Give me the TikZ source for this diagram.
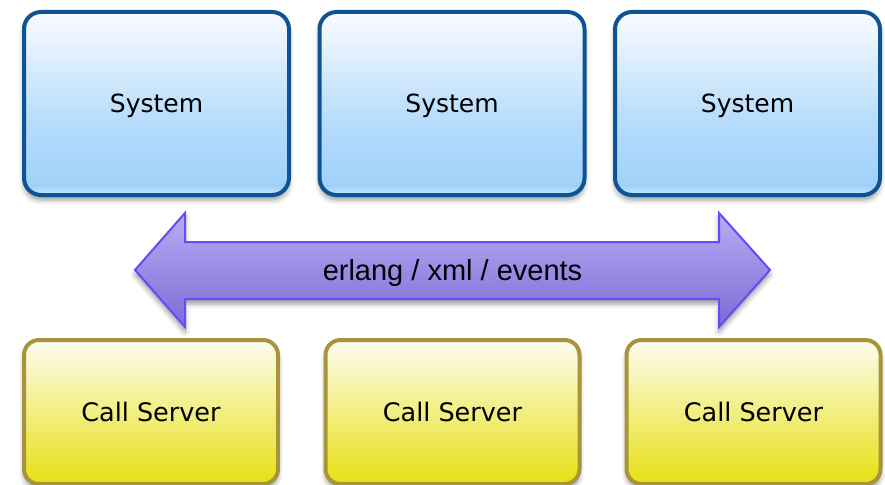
\documentclass[tikz,border=0pt]{standalone}
\usepackage{fontspec}
\usetikzlibrary{shadows.blur}

\newfontfamily\boxfont{DejaVu Sans}
\newfontfamily\busfont{Liberation Sans}

\definecolor{sysedge}{RGB}{14,84,148}
\definecolor{sysblue}{RGB}{160,209,250}
\definecolor{sysband}{RGB}{205,232,252}
\definecolor{systop}{RGB}{250,252,255}
\definecolor{calledge}{RGB}{168,148,58}
\definecolor{calltop}{RGB}{253,252,240}
\definecolor{callbot}{RGB}{232,224,18}
\definecolor{busedge}{RGB}{98,76,248}
\definecolor{bustop}{RGB}{186,172,246}
\definecolor{busbot}{RGB}{126,106,212}

% light band at the foot of the system boxes
\pgfdeclareverticalshading{sysshade}{100bp}{color(0bp)=(sysband); color(25bp)=(sysband);
  color(27.5bp)=(sysblue); color(45bp)=(sysblue!75!systop); color(75bp)=(systop); color(100bp)=(systop)}

\begin{document}
\begin{tikzpicture}[x=1pt,y=-1pt,
    boxshadow/.style={blur shadow={shadow xshift=0pt,shadow yshift=-5pt,
      shadow blur radius=5pt,shadow opacity=40}},
    sysbox/.style={draw=sysedge,line width=4pt,rounded corners=17pt,shading=sysshade,
      minimum width=265pt,minimum height=183pt,boxshadow,text depth=0pt,
      font=\boxfont\fontsize{25}{30}\selectfont},
    callbox/.style={draw=calledge,line width=4pt,rounded corners=15pt,
      top color=calltop,bottom color=callbot,
      minimum width=254pt,minimum height=144pt,boxshadow,text depth=0pt,
      font=\boxfont\fontsize{25.5}{30}\selectfont}]
  \clip (0,0) rectangle (885,484);

  % systems
  \node[sysbox] (sys1) at (156.5,103.5) {System};
  \node[sysbox] (sys2) at (452,103.5) {System};
  \node[sysbox] (sys3) at (747.5,103.5) {System};

  % event bus
  \draw[draw=busedge,line width=2pt,top color=bustop,bottom color=busbot,boxshadow]
    (135,270) -- (185,213) -- (185,242) -- (719,242) -- (719,213) -- (770,270)
    -- (719,327) -- (719,299) -- (185,299) -- (185,327) -- cycle;
  \node[text depth=0pt,font=\busfont\fontsize{29}{34}\selectfont] (bus) at (452.5,270) {erlang / xml / events};

  % call servers
  \node[callbox] (cs1) at (151,412) {Call Server};
  \node[callbox] (cs2) at (452.5,412) {Call Server};
  \node[callbox] (cs3) at (753.5,412) {Call Server};
\end{tikzpicture}
\end{document}
